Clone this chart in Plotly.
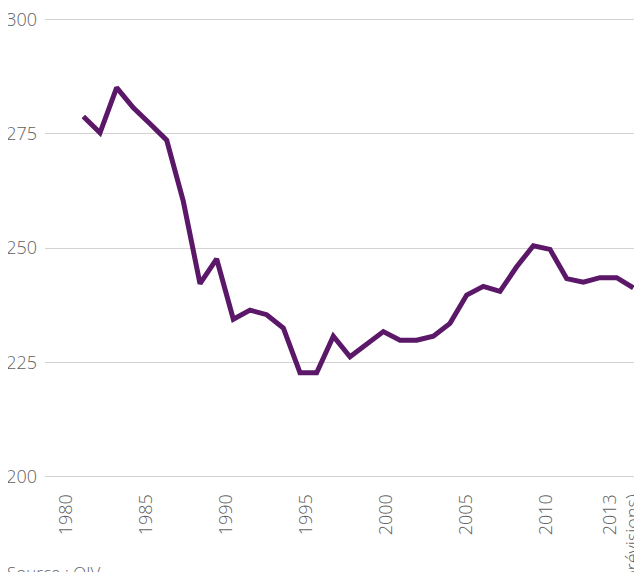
import plotly.graph_objects as go

years = list(range(1980, 2014))
values = [278.8, 275.2, 285.1, 280.7, 277.2, 273.6, 260.2, 242.2, 247.6, 234.4,
          236.4, 235.4, 232.5, 222.7, 222.7, 230.7, 226.2, 228.9, 231.7, 229.8,
          229.8, 230.7, 233.5, 239.7, 241.6, 240.5, 245.9, 250.5, 249.7, 243.3,
          242.5, 243.5, 243.5, 241.3]

tick_labels = ["1980", "1985", "1990", "1995", "2000", "2005", "2010", "2013<br>(prévisions)"]
tick_positions = [1978.96, 1983.76, 1988.56, 1993.36, 1998.16, 2002.96, 2007.76, 2012.30]

y_ticks = [200, 225, 250, 275, 300]

font_family = "Open Sans, Lato, sans-serif"
text_color = "#5f5f5f"

fig = go.Figure()
fig.add_trace(go.Scatter(
    x=years, y=values, mode="lines",
    line=dict(color="#5B1768", width=5),
    hoverinfo="skip", showlegend=False,
))

# page body has an 8px margin, so figure is 634x564
fig.update_layout(
    width=634, height=564,
    margin=dict(l=37, r=0, t=7, b=91),
    paper_bgcolor="white", plot_bgcolor="white",
    font=dict(family=font_family, color=text_color, size=16),
    xaxis=dict(
        range=[1977.70, 2013.52], automargin=False,
        tickmode="array", tickvals=tick_positions, ticktext=tick_labels,
        tickangle=-90, showgrid=False, zeroline=False, showline=False,
        ticks="outside", ticklen=5, tickcolor="rgba(0,0,0,0)",
        ticklabeloverflow="allow",
        tickfont=dict(size=18, color=text_color, family=font_family, weight=300),
    ),
    yaxis=dict(
        range=[199, 301], automargin=False,
        tickmode="array", tickvals=y_ticks,
        showgrid=True, gridcolor="#d3d3d3", gridwidth=1,
        zeroline=False, showline=False, ticks="",
        ticklabelstandoff=7, ticklabeloverflow="allow",
        tickfont=dict(size=18, color=text_color, family=font_family, weight=300),
    ),
    annotations=[dict(
        text="Source : OIV", xref="paper", yref="paper",
        x=-0.067, y=-0.168, xanchor="left", yanchor="top",
        showarrow=False, font=dict(size=17, color=text_color, family=font_family, weight=300),
    )],
)

fig.write_html("out.html")
